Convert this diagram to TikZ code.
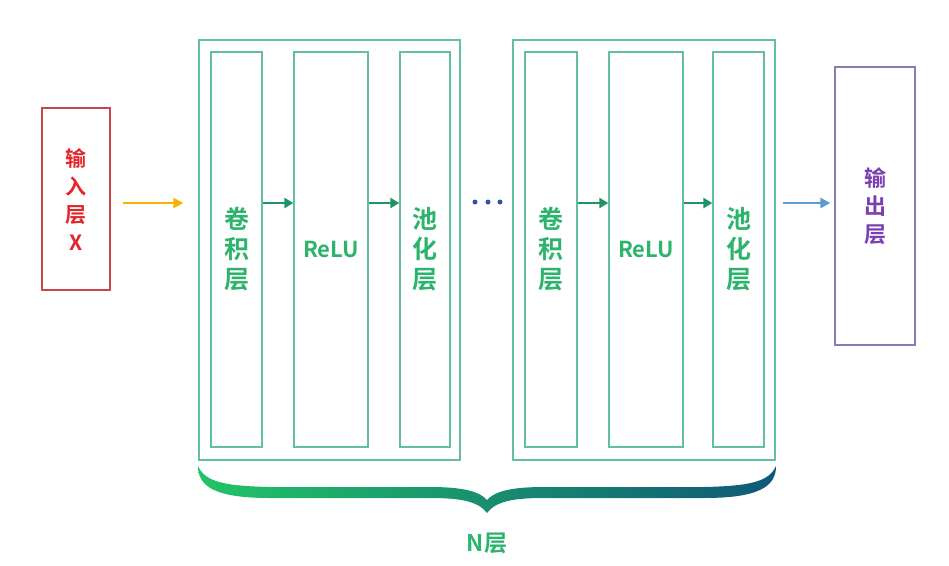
\documentclass[tikz,border=0pt]{standalone}
\usepackage{fontspec}
\setmainfont{Noto Sans CJK SC}[BoldFont={Noto Sans CJK SC Bold}]
\usetikzlibrary{arrows.meta}
\definecolor{inred}{HTML}{C9474C}
\definecolor{intext}{HTML}{E3262B}
\definecolor{gborder}{HTML}{62C09C}
\definecolor{gtext}{HTML}{2DB46C}
\definecolor{garrow}{HTML}{1E9464}
\definecolor{yarrow}{HTML}{F4B400}
\definecolor{barrow}{HTML}{5B9BD5}
\definecolor{pborder}{HTML}{8C7AB8}
\definecolor{ptext}{HTML}{7A3FB2}
\definecolor{dotc}{HTML}{2F5597}
\definecolor{braceL}{HTML}{22C466}
\definecolor{braceR}{HTML}{0F5878}
\tikzset{
  lbl/.style={font=\bfseries\fontsize{25}{30}\selectfont, align=center},
  sidelbl/.style={font=\bfseries\fontsize{21}{28}\selectfont, align=center},
  outerbox/.style={draw=gborder, line width=1.3pt, minimum width=#1, minimum height=420pt, inner sep=0pt},
  innerbox/.style={draw=gborder, line width=1.3pt, minimum width=#1, minimum height=395pt, inner sep=0pt, lbl, text=gtext},
  garr/.style={draw=garrow, line width=2.6pt, -{Triangle[length=9pt,width=10pt]}},
  dot/.style={circle, fill=dotc, inner sep=0pt, minimum size=5pt},
}
\begin{document}
\begin{tikzpicture}[x=1pt,y=-1pt]
\useasboundingbox (0,0) rectangle (949,565);
\coordinate (row) at (0,203);
% input
\node[draw=inred, line width=1.3pt, minimum width=68pt, minimum height=182pt, inner sep=0pt, sidelbl, text=intext] (input) at (76,199) {输\\入\\层\\X};
% group 1
\node[outerbox=261pt] (grp1) at (329.5,250) {};
\node[innerbox=51pt] (conv1) at (236.5,249.5) {卷\\积\\层};
\node[innerbox=74pt, font=\bfseries\fontsize{22}{28}\selectfont] (relu1) at (331,249.5) {ReLU};
\node[innerbox=50pt] (pool1) at (425,249.5) {池\\化\\层};
% group 2
\node[outerbox=262pt] (grp2) at (644,250) {};
\node[innerbox=52pt] (conv2) at (551,249.5) {卷\\积\\层};
\node[innerbox=74pt, font=\bfseries\fontsize{22}{28}\selectfont] (relu2) at (646,249.5) {ReLU};
\node[innerbox=51pt] (pool2) at (738.5,249.5) {池\\化\\层};
% output
\node[draw=pborder, line width=1.3pt, minimum width=80pt, minimum height=278pt, inner sep=0pt, font=\bfseries\fontsize{22}{28}\selectfont, align=center, text=ptext] (output) at (875,206) {输\\出\\层};
% dots
\node[dot] (d1) at (475,202) {};
\node[dot] (d2) at (488,202) {};
\node[dot] (d3) at (500,202) {};
% arrows
\draw[draw=yarrow, line width=2.8pt, -{Triangle[length=10pt,width=10pt]}]
  ([xshift=12pt]input.east |- row) -- ([xshift=-15pt]grp1.west |- row);
\draw[garr] (conv1.east |- row) -- (relu1.west |- row);
\draw[garr] (relu1.east |- row) -- (pool1.west |- row);
\draw[garr] (conv2.east |- row) -- (relu2.west |- row);
\draw[garr] (relu2.east |- row) -- (pool2.west |- row);
\draw[draw=barrow, line width=2.8pt, -{Triangle[length=10pt,width=10pt]}]
  ([xshift=7pt]grp2.east |- row) -- ([xshift=-4pt]output.west |- row);
% brace
\shade[left color=braceL, right color=braceR]
  (198,466) .. controls (205,482) and (225,486) .. (270,487)
  -- (430,487) .. controls (465,487) and (480,492) .. (487,500)
  .. controls (494,492) and (509,487) .. (544,487)
  -- (704,487) .. controls (749,486) and (769,482) .. (776,466)
  .. controls (776,486) and (760,498) .. (704,498)
  -- (544,498) .. controls (514,498) and (496,501) .. (487,513)
  .. controls (478,501) and (460,498) .. (430,498)
  -- (270,498) .. controls (214,498) and (198,486) .. (198,466) -- cycle;
\node[font=\bfseries\fontsize{23}{26}\selectfont, text=gtext] (nl) at (487,543) {N层};
\end{tikzpicture}
\end{document}
